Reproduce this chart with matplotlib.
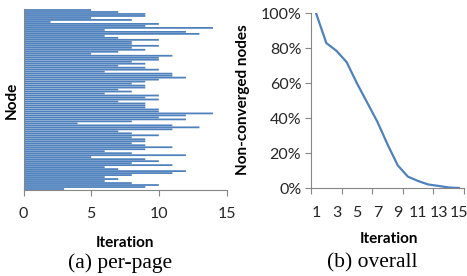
import matplotlib
matplotlib.use("Agg")
import matplotlib.pyplot as plt
import numpy as np

# (a) per-page: iterations until convergence per node (top to bottom)
node_iters = [5, 7, 9, 9, 5, 8, 2, 10, 9, 14, 6, 12, 13,
              6, 7, 10, 8, 8, 10, 8, 9, 7, 5, 11, 10,
              10, 8, 9, 7, 9, 10, 6, 11, 11, 12, 10, 9, 8,
              9, 9, 7, 8, 6, 10, 9, 10, 7, 9, 9, 9, 10,
              10, 14, 12, 10, 12, 8, 4, 11, 13, 11, 7, 8, 10,
              8, 9, 9, 8, 9, 11, 9, 6, 8, 12, 5, 9, 10,
              8, 11, 6, 7, 12, 11, 8, 6, 7, 6, 8, 10, 9, 3]

# (b) overall: share of non-converged nodes per iteration
iterations = list(range(1, 16))
nonconverged = [1.00, 0.83, 0.785, 0.72, 0.60, 0.49, 0.38, 0.25, 0.13,
                0.065, 0.04, 0.02, 0.012, 0.003, 0.0]

BLUE = "#4F81BD"
GRAY = "#868686"
TXT = "#262626"

fig = plt.figure(figsize=(4.67, 2.76), dpi=100)
W, H = 467, 276

def ax_at(x0, y0, x1, y1):
    return fig.add_axes([x0 / W, 1 - y1 / H, (x1 - x0) / W, (y1 - y0) / H])

tick_font = dict(family=["Lato", "DejaVu Sans"], size=11.5, color=TXT)
lab_font = dict(family=["Lato", "DejaVu Sans"], size=11, weight="bold", color="black")
cap_font = dict(family=["Liberation Serif", "DejaVu Serif"], size=15.5, color="black")

# ---- left panel
ax1 = ax_at(23.5, 9, 226.5, 190)
ypos = np.arange(len(node_iters))
bars = ax1.barh(ypos, node_iters, height=0.9, color=BLUE, linewidth=0)
for b in bars:
    b.set_snap(False)
ax1.set_ylim(len(node_iters) - 0.5, -0.5)
ax1.set_xlim(0, 15)
ax1.set_xticks([0, 5, 10, 15])
ax1.set_yticks([])
for s in ["top", "right"]:
    ax1.spines[s].set_visible(False)
for s in ["left", "bottom"]:
    ax1.spines[s].set_color(GRAY)
    ax1.spines[s].set_linewidth(0.8)
ax1.tick_params(axis="x", direction="out", length=4, color=GRAY, width=0.8, pad=8)
for lab in ax1.get_xticklabels():
    lab.set(**tick_font)
fig.text(125 / W, 1 - 243 / H, "Iteration", ha="center", va="center", **lab_font)
fig.text(12 / W, 1 - 100 / H, "Node", ha="center", va="center", rotation=90, **lab_font)
fig.text(120 / W, 1 - 263 / H, "(a) per-page", ha="center", va="center", **cap_font)

# ---- right panel
ax2 = ax_at(311, 13.3, 464, 188)
ax2.plot(iterations, nonconverged, color=BLUE, linewidth=1.6)
ax2.set_xlim(0.5, 15.5)
ax2.set_ylim(0, 1.0)
ax2.set_yticks([0, 0.2, 0.4, 0.6, 0.8, 1.0])
ax2.set_yticklabels([f"{int(round(v * 100))}%" for v in [0, 0.2, 0.4, 0.6, 0.8, 1.0]])
ax2.set_xticks([0.5, 3.5, 6.5, 9.5, 12.5, 15.5])
ax2.set_xticklabels([])
ax2.set_xticks(list(range(1, 16, 2)), minor=True)
ax2.set_xticklabels([str(i) for i in range(1, 16, 2)], minor=True)
ax2.tick_params(axis="x", which="minor", length=0, pad=13)
ax2.tick_params(axis="x", which="major", direction="out", length=4, color=GRAY, width=0.8)
ax2.tick_params(axis="y", direction="out", length=4, color=GRAY, width=0.8, pad=3)
for s in ["top", "right"]:
    ax2.spines[s].set_visible(False)
for s in ["left", "bottom"]:
    ax2.spines[s].set_color(GRAY)
    ax2.spines[s].set_linewidth(0.8)
for lab in ax2.get_yticklabels() + ax2.get_xticklabels(minor=True):
    lab.set(**tick_font)
fig.text(389 / W, 1 - 239 / H, "Iteration", ha="center", va="center", **lab_font)
fig.text(243 / W, 1 - 100 / H, "Non-converged nodes", ha="center", va="center",
         rotation=90, **lab_font)
fig.text(372 / W, 1 - 263 / H, "(b) overall", ha="center", va="center", **cap_font)

fig.savefig("out.png", dpi=100)
